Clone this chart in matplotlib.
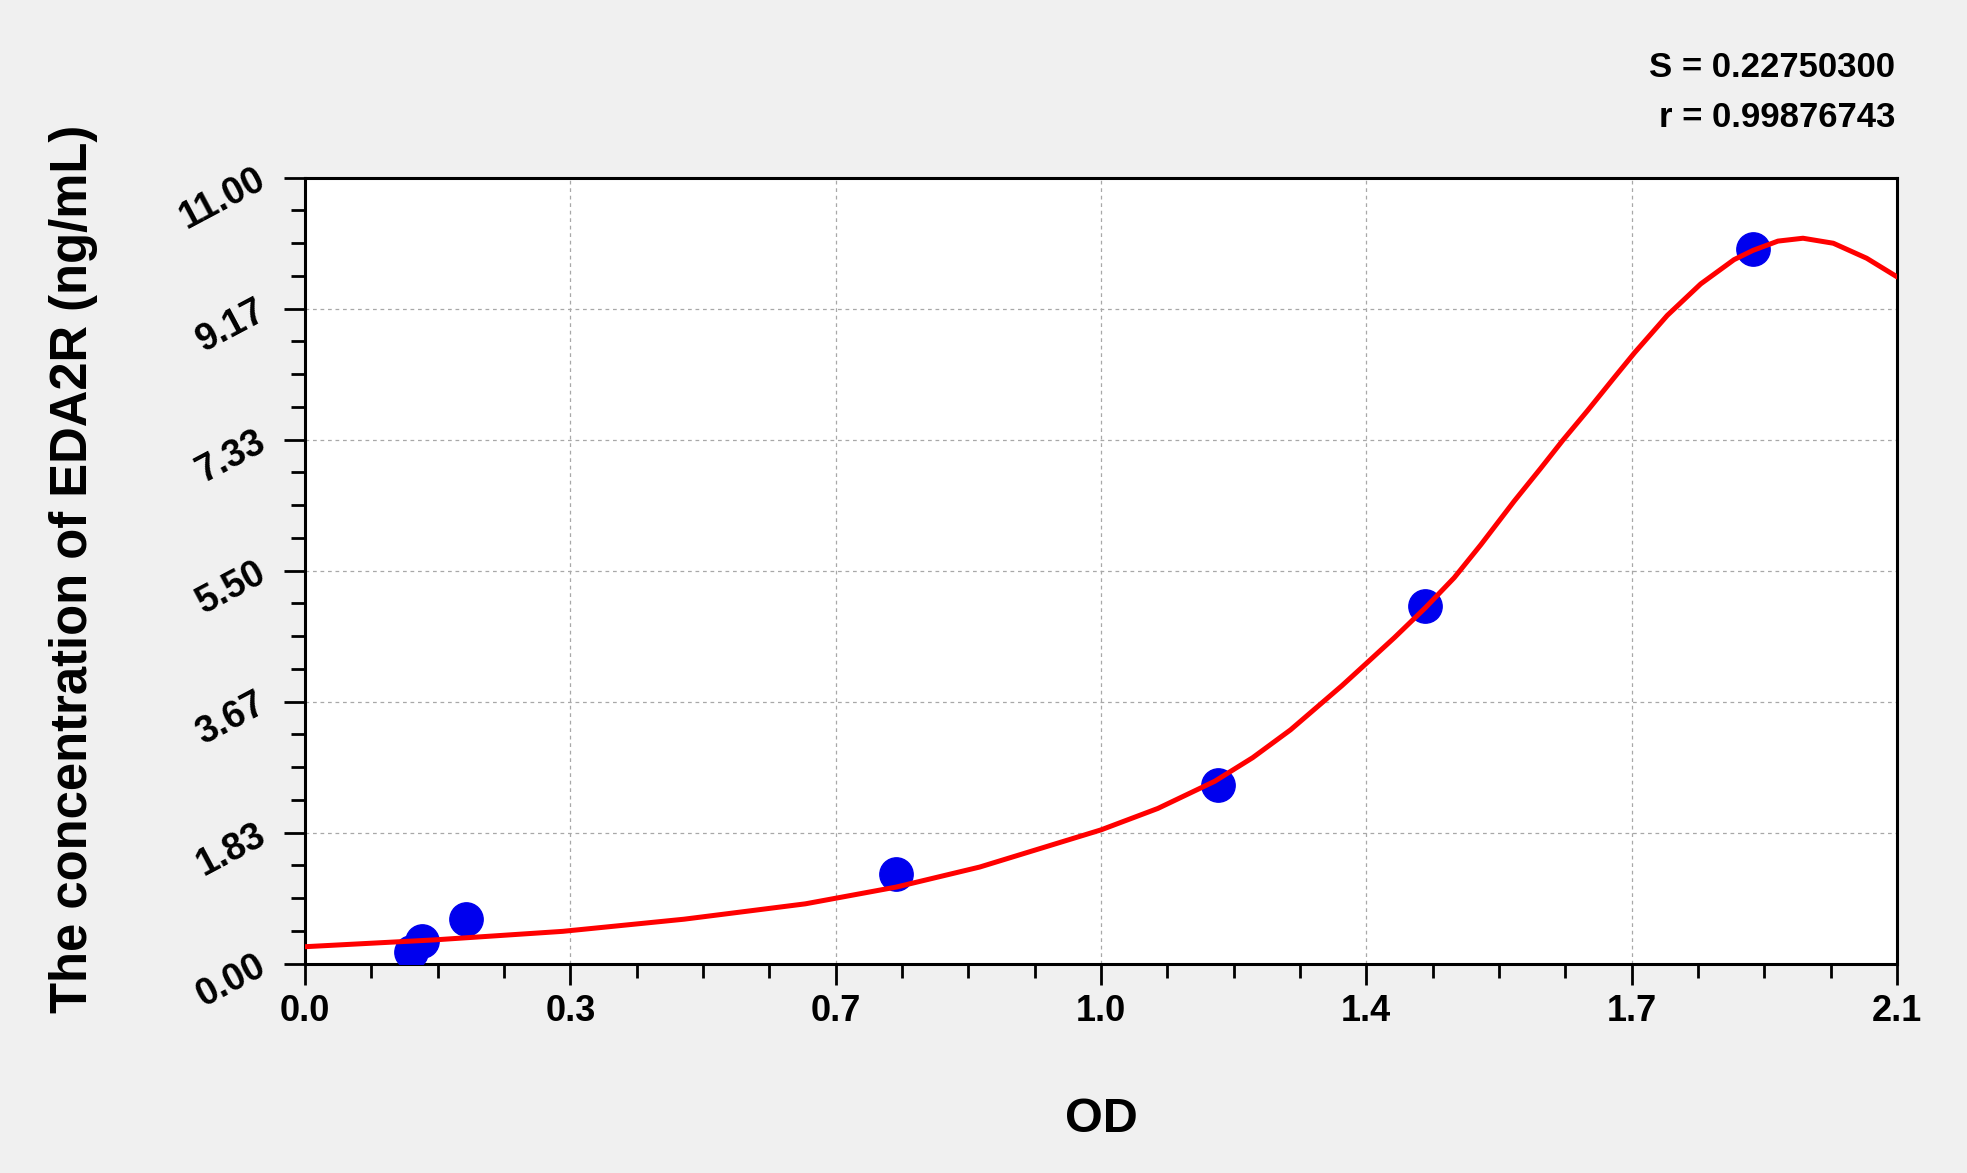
import matplotlib
matplotlib.use("Agg")
import matplotlib.pyplot as plt
import numpy as np
from matplotlib.ticker import FixedLocator

plt.rcParams['font.family'] = ['Liberation Sans', 'DejaVu Sans']

# standard points (OD, concentration ng/mL)
std_od = [0.140, 0.154, 0.213, 0.780, 1.204, 1.478, 1.910]
std_conc = [0.156, 0.312, 0.625, 1.25, 2.50, 5.00, 10.00]

# fitted curve
curve_od = [0.00, 0.17, 0.34, 0.50, 0.66, 0.78, 0.89, 1.05, 1.125, 1.20, 1.25, 1.30,
            1.368, 1.40, 1.437, 1.478, 1.516, 1.551, 1.595, 1.630, 1.659, 1.692,
            1.727, 1.754, 1.797, 1.841, 1.885, 1.910, 1.943, 1.976, 2.016, 2.060, 2.100]
curve_conc = [0.235, 0.33, 0.45, 0.62, 0.835, 1.07, 1.35, 1.87, 2.17, 2.55, 2.88, 3.27,
              3.89, 4.20, 4.56, 4.98, 5.40, 5.86, 6.47, 6.93, 7.32, 7.74,
              8.20, 8.55, 9.07, 9.51, 9.85, 9.98, 10.11, 10.15, 10.08, 9.87, 9.61]

x_ticks = [0.0, 0.35, 0.70, 1.05, 1.40, 1.75, 2.10]
x_labels = ['0.0', '0.3', '0.7', '1.0', '1.4', '1.7', '2.1']
y_ticks = [0.0, 11 / 6, 22 / 6, 5.5, 44 / 6, 55 / 6, 11.0]
y_labels = ['0.00', '1.83', '3.67', '5.50', '7.33', '9.17', '11.00']

fit_s = 'S = 0.22750300'
fit_r = 'r = 0.99876743'

W, H = 1967, 1173
fig = plt.figure(figsize=(W / 100, H / 100), dpi=100, facecolor='#f0f0f0')
ax = fig.add_axes([305 / W, 1 - 963.5 / H, (1897 - 305) / W, (963.5 - 177.5) / H])
ax.set_facecolor('white')

ax.plot(std_od, std_conc, 'o', color='#0000ee', markersize=24, zorder=3)
ax.plot(curve_od, curve_conc, '-', color='#ff0000', linewidth=3.6, zorder=4,
        solid_joinstyle='round', solid_capstyle='round')

ax.set_xlim(0, 2.1)
ax.set_ylim(0, 11)
ax.xaxis.set_major_locator(FixedLocator(x_ticks))
ax.yaxis.set_major_locator(FixedLocator(y_ticks))
ax.xaxis.set_minor_locator(FixedLocator(np.arange(0, 2.1001, 0.0875)))
ax.yaxis.set_minor_locator(FixedLocator(np.arange(0, 11.001, 11 / 24)))
ax.set_xticklabels(x_labels, fontsize=26, fontweight='bold')
ax.set_yticklabels(y_labels, fontsize=27, fontweight='bold')

ax.tick_params(which='major', length=15, width=2, color='black')
ax.tick_params(which='minor', length=10, width=2, color='black')
ax.tick_params(axis='x', which='major', pad=7)
ax.tick_params(axis='y', which='major', pad=15)
plt.setp(ax.get_yticklabels(), rotation=28, rotation_mode='anchor', ha='right', va='center')

for sp in ax.spines.values():
    sp.set_linewidth(2.2)
    sp.set_color('black')

ax.grid(True, which='major', color='#a8a8a8', linestyle=(0, (3, 3)), linewidth=0.9)
ax.set_axisbelow(True)

fig.text(1101 / W, 1 - 1131.7 / H, 'OD', fontsize=35, fontweight='bold',
         ha='center', va='baseline')
fig.text(86.7 / W, 1 - 569 / H, 'The concentration of EDA2R (ng/mL)', fontsize=36.5,
         fontweight='bold', rotation=90, rotation_mode='anchor', ha='center', va='baseline')

fig.text(1895 / W, 1 - 76.7 / H, fit_s, fontsize=25, fontweight='bold', ha='right', va='baseline')
fig.text(1895 / W, 1 - 127.3 / H, fit_r, fontsize=25, fontweight='bold', ha='right', va='baseline')

fig.savefig('out.png', dpi=100, facecolor=fig.get_facecolor())
